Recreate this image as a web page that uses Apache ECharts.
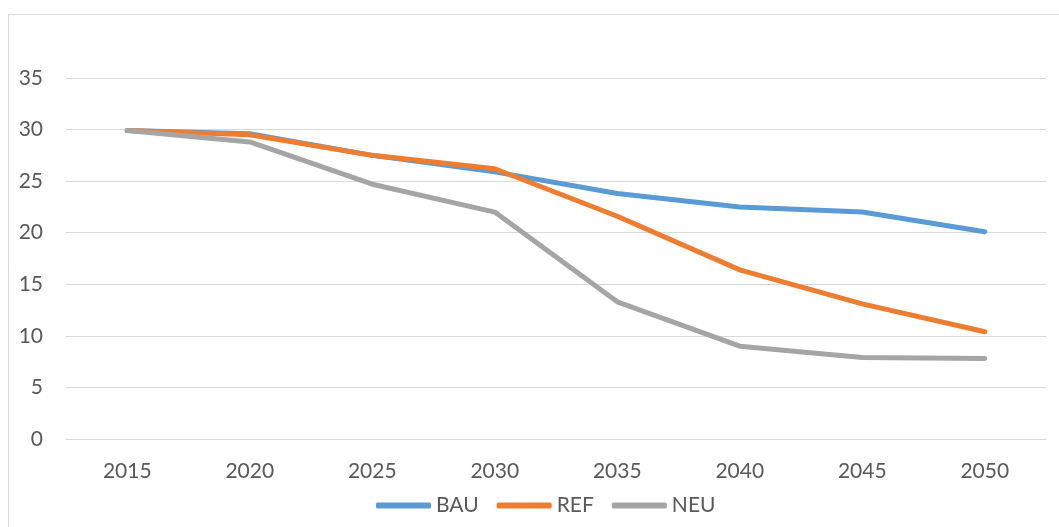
<!DOCTYPE html>
<html>
<head>
<meta charset="utf-8">
<script src="https://cdn.jsdelivr.net/npm/echarts@6/dist/echarts.min.js"></script>
<style>
  html, body { margin: 0; padding: 0; background: #fff; }
  #chart { width: 1059px; height: 527px; }
</style>
</head>
<body>
<div id="chart"></div>
<script>
// Scenario years on the category axis
const years = ['2015', '2020', '2025', '2030', '2035', '2040', '2045', '2050'];

// Values per scenario
const bau = [29.9, 29.6, 27.5, 25.9, 23.8, 22.5, 22.0, 20.1];
const ref = [29.9, 29.5, 27.5, 26.2, 21.6, 16.4, 13.1, 10.4];
const neu = [29.9, 28.8, 24.7, 22.0, 13.3, 9.0, 7.9, 7.8];

const seriesNames = ['BAU', 'REF', 'NEU'];
const seriesColors = ['#5B9BD5', '#ED7D31', '#A5A5A5'];
const seriesValues = [bau, ref, neu];

const font = 'Lato, "Open Sans", sans-serif';
const textColor = '#595959';

const chart = echarts.init(document.getElementById('chart'), null, { renderer: 'canvas' });

chart.setOption({
  backgroundColor: '#ffffff',
  animation: false,
  graphic: [{
    type: 'rect',
    shape: { x: 8.5, y: 14.5, width: 1200, height: 700 },
    style: { fill: 'none', stroke: '#D9D9D9', lineWidth: 1 },
    silent: true,
    z: -1
  }],
  grid: { left: 66, right: 13, top: 78, bottom: 88, containLabel: false },
  legend: {
    bottom: 6,
    left: 371,
    icon: 'roundRect',
    itemWidth: 55,
    itemHeight: 6,
    itemGap: 18,
    textStyle: { fontFamily: font, fontSize: 21, color: textColor },
    data: seriesNames
  },
  xAxis: {
    type: 'category',
    data: years,
    boundaryGap: true,
    axisLine: { show: true, lineStyle: { color: '#D9D9D9', width: 1 } },
    axisTick: { show: false },
    axisLabel: { fontFamily: font, fontSize: 21, color: textColor, margin: 22 }
  },
  yAxis: {
    type: 'value',
    min: 0,
    max: 35,
    interval: 5,
    axisLine: { show: false },
    axisTick: { show: false },
    axisLabel: { fontFamily: font, fontSize: 21, color: textColor, margin: 23 },
    splitLine: { lineStyle: { color: '#D9D9D9', width: 1 } }
  },
  series: seriesNames.map((name, i) => ({
    name: name,
    type: 'line',
    data: seriesValues[i],
    showSymbol: false,
    symbol: 'none',
    color: seriesColors[i],
    lineStyle: { color: seriesColors[i], width: 5, cap: 'round', join: 'round' },
    itemStyle: { color: seriesColors[i] }
  }))
});
</script>
</body>
</html>
